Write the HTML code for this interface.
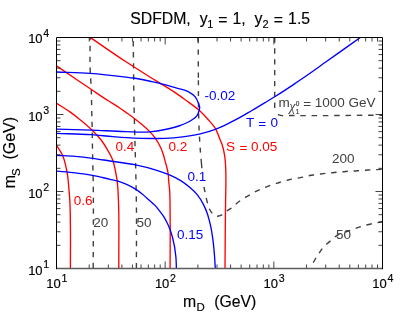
<!DOCTYPE html><html><head><meta charset="utf-8"><title>SDFDM</title><style>html,body{margin:0;padding:0;background:#fff}text{stroke-width:0}.k text{stroke-width:.15px}.k{fill:#000;stroke:#000}.r{fill:#f00;stroke:#f00}.b{fill:#00f;stroke:#00f}.g{fill:#404040;stroke:#404040}</style></head><body><svg width="407" height="326" viewBox="0 0 407 326" style="display:block"><rect width="407" height="326" fill="#fff"/><defs><clipPath id="c"><rect x="56.50" y="37.50" width="326.00" height="231.00"/></clipPath></defs><g clip-path="url(#c)" fill="none" stroke-linejoin="round"><path d="M90.10,37.50 C90.13,48.33 89.82,59.18 90.20,70.00 C90.43,76.67 91.05,83.33 91.30,90.00 C91.55,96.66 91.55,103.33 91.70,110.00 C91.85,116.67 92.07,123.33 92.20,130.00 C92.33,136.67 92.38,143.33 92.50,150.00 C92.69,160.67 93.03,171.33 93.20,182.00 C93.66,210.83 93.20,239.67 93.20,268.50" stroke="#404040" stroke-width="1.4" stroke-dasharray="5.3 5.55" stroke-dashoffset="2.5"/><path d="M133.20,37.50 C133.53,62.33 133.66,87.17 134.20,112.00 C134.29,116.33 134.40,120.67 134.50,125.00 C134.95,144.00 135.62,163.00 136.00,182.00 C136.15,189.67 136.30,197.33 136.40,205.00 C136.67,226.16 136.40,247.33 136.40,268.50" stroke="#404040" stroke-width="1.4" stroke-dasharray="5.4 5.7" stroke-dashoffset="7.6"/><path d="M203.90,186.80 C204.30,188.63 204.72,190.46 205.10,192.30 C205.52,194.33 205.83,196.38 206.30,198.40 C206.69,200.04 207.12,201.68 207.60,203.30 C208.22,205.39 208.70,207.58 209.70,209.50 C210.46,210.95 211.37,212.42 212.50,213.60 C213.41,214.55 214.40,215.78 215.60,216.10 C216.48,216.34 217.56,216.16 218.50,216.00 C220.04,215.74 221.53,214.96 222.90,214.20 C224.81,213.14 226.30,211.38 228.10,210.10 C229.49,209.11 231.04,208.33 232.40,207.30 C234.01,206.07 235.33,204.48 236.90,203.20 C238.15,202.18 239.47,201.23 240.80,200.30 C242.52,199.10 244.30,197.97 246.10,196.90 C247.57,196.02 249.10,195.24 250.60,194.40 C252.37,193.41 254.10,192.33 255.90,191.40 C257.50,190.58 259.15,189.82 260.80,189.10 C262.61,188.31 264.46,187.62 266.30,186.90 C267.96,186.25 269.62,185.58 271.30,185.00 C273.24,184.33 275.24,183.82 277.20,183.20 C278.84,182.68 280.45,182.09 282.10,181.60 C284.15,181.00 286.22,180.49 288.30,180.00 C289.96,179.61 291.63,179.23 293.30,178.90 C295.26,178.52 297.24,178.26 299.20,177.90 C300.90,177.59 302.61,177.27 304.30,176.90 C306.18,176.48 308.01,175.86 309.90,175.50 C311.52,175.19 313.17,175.03 314.80,174.80 C316.77,174.53 318.73,174.25 320.70,174.00 C322.33,173.79 323.96,173.58 325.60,173.40 C327.76,173.16 329.94,173.04 332.10,172.80 C333.67,172.62 335.23,172.36 336.80,172.20 C338.96,171.98 341.14,172.01 343.30,171.80 C344.94,171.64 346.56,171.34 348.20,171.20 C350.29,171.03 352.40,171.12 354.50,171.00 C356.20,170.90 357.90,170.72 359.60,170.60 C361.70,170.45 363.80,170.35 365.90,170.20 C367.53,170.08 369.16,169.90 370.80,169.80 C372.90,169.67 375.00,169.68 377.10,169.60 C378.80,169.54 380.50,169.47 382.20,169.40" stroke="#404040" stroke-width="1.4" stroke-dasharray="5.5 5.8" stroke-dashoffset="0.0"/><path d="M274.70,37.50 C274.70,61.00 274.70,84.50 274.70,108.00" stroke="#404040" stroke-width="1.4" stroke-dasharray="5.3 5.55" stroke-dashoffset="0.0"/><path d="M276.70,114.10 C278.03,114.53 279.34,115.12 280.70,115.40 C282.96,115.86 285.37,115.47 287.70,115.50 C319.30,115.91 350.90,115.30 382.50,115.20" stroke="#404040" stroke-width="1.4" stroke-dasharray="5.5 5.8" stroke-dashoffset="10.1"/><path d="M313.20,262.70 C313.93,261.40 314.63,260.08 315.40,258.80 C316.55,256.88 317.86,255.06 319.10,253.20 C320.06,251.76 320.93,250.25 322.00,248.90 C323.33,247.23 324.94,245.77 326.50,244.30 C327.67,243.20 328.89,242.15 330.10,241.10 C332.19,239.29 334.20,237.29 336.50,235.80 C340.23,233.39 344.80,232.37 349.00,230.80 C353.56,229.09 358.13,227.37 362.80,226.00 C368.56,224.31 374.53,223.31 380.40,222.00 C381.00,221.87 381.60,221.73 382.20,221.60" stroke="#404040" stroke-width="1.4" stroke-dasharray="5.5 5.8" stroke-dashoffset="0.0"/><path d="M198.20,37.50L198.22,43.20M198.25,49.50L198.27,54.80M198.30,61.20L198.32,66.50M198.35,72.60L198.37,77.70M198.38,80.20L198.40,85.20M198.42,91.00L198.44,96.00M198.47,102.50L198.49,107.50M198.61,113.60L198.77,118.60M198.97,125.40L199.13,130.40M199.44,136.60L199.76,141.60M200.13,147.60L200.50,152.60M201.06,158.80L201.90,168.30" stroke="#404040" stroke-width="1.4"/><path d="M90.50,37.60 C102.33,45.67 114.02,53.96 126.00,61.80 C134.26,67.21 142.63,72.46 151.00,77.70 C159.30,82.89 167.96,87.52 176.00,93.10 C179.21,95.33 182.35,97.67 185.50,100.00 C190.28,103.54 195.32,106.80 199.70,110.80 C202.74,113.57 205.59,116.60 208.30,119.70 C210.87,122.64 213.65,125.55 215.60,128.90 C217.47,132.11 218.44,135.84 219.90,139.30 C220.56,140.87 221.32,142.41 221.90,144.00 C223.23,147.63 223.97,151.49 224.60,155.30 C225.28,159.42 225.48,163.63 225.70,167.80 C225.95,172.49 225.90,177.20 225.90,181.90 C225.90,187.93 225.69,193.97 225.60,200.00 C225.41,213.33 225.29,226.67 225.20,240.00 C225.16,245.67 225.14,251.33 225.10,257.00 C225.07,260.83 225.03,264.67 225.00,268.50" stroke="#ff0000" stroke-width="1.35"/><path d="M56.50,65.90 C68.27,73.87 80.00,81.88 91.80,89.80 C97.13,93.38 102.41,97.01 107.80,100.50 C111.84,103.11 116.02,105.51 120.00,108.20 C122.02,109.57 124.01,110.99 126.00,112.40 C128.92,114.47 131.86,116.52 134.70,118.70 C137.18,120.61 139.62,122.57 142.00,124.60 C144.56,126.79 147.16,128.98 149.50,131.40 C151.60,133.57 153.66,135.83 155.40,138.30 C156.57,139.96 157.62,141.72 158.60,143.50 C159.59,145.32 160.50,147.19 161.30,149.10 C162.18,151.19 162.92,153.34 163.60,155.50 C164.37,157.93 164.93,160.43 165.60,162.90 C166.06,164.60 166.59,166.29 167.00,168.00 C167.43,169.82 167.82,171.65 168.10,173.50 C168.52,176.27 168.55,179.10 168.80,181.90 C169.05,184.64 169.39,187.36 169.60,190.10 C170.18,197.61 169.98,205.17 170.10,212.70 C170.39,231.30 170.10,249.90 170.10,268.50" stroke="#ff0000" stroke-width="1.35"/><path d="M56.50,103.40 C60.87,106.13 65.39,108.64 69.60,111.60 C73.00,113.99 76.27,116.59 79.50,119.20 C83.85,122.72 88.23,126.27 92.20,130.20 C95.33,133.30 98.43,136.51 101.10,140.00 C103.42,143.03 105.48,146.29 107.40,149.60 C109.40,153.05 111.42,156.58 112.80,160.30 C114.29,164.32 114.97,168.67 115.80,172.90 C116.38,175.88 116.94,178.88 117.30,181.90 C117.52,183.79 117.65,185.70 117.80,187.60 C118.25,193.45 118.40,199.33 118.60,205.20 C119.20,222.45 118.79,239.73 118.80,257.00 C118.80,260.83 118.80,264.67 118.80,268.50" stroke="#ff0000" stroke-width="1.35"/><path d="M56.50,145.20 C58.53,148.57 61.05,151.72 62.60,155.30 C63.98,158.47 64.76,161.93 65.60,165.30 C66.43,168.63 67.08,172.01 67.60,175.40 C68.21,179.44 68.44,183.53 68.80,187.60 C69.17,191.76 69.54,195.93 69.80,200.10 C70.31,208.48 70.27,216.90 70.40,225.30 C70.62,239.70 70.40,254.10 70.40,268.50" stroke="#ff0000" stroke-width="1.35"/><path d="M56.50,72.00 C67.73,72.47 78.99,72.60 90.20,73.40 C102.16,74.25 114.09,75.65 126.00,77.10 C128.40,77.39 130.81,77.65 133.20,78.00 C139.52,78.91 145.77,80.32 152.00,81.70 C155.54,82.49 159.08,83.31 162.60,84.20 C167.09,85.34 171.54,86.63 176.00,87.90 C179.91,89.01 184.17,89.43 187.70,91.30 C190.42,92.73 193.30,94.53 195.20,96.90 C196.72,98.81 197.73,101.26 198.60,103.60 C199.03,104.77 199.63,105.98 199.70,107.20 C199.78,108.45 199.35,109.77 199.00,111.00 C198.59,112.41 198.05,113.87 197.30,115.10 C195.74,117.66 192.77,119.36 190.20,121.00 C187.15,122.95 183.62,124.24 180.20,125.50 C176.12,127.01 171.84,128.04 167.60,129.00 C161.82,130.31 155.90,131.28 150.00,131.80 C141.86,132.52 133.60,131.79 125.40,131.60 C114.09,131.34 102.80,130.51 91.50,130.10 C79.84,129.67 68.17,129.43 56.50,129.10" stroke="#0000ff" stroke-width="1.35"/><path d="M56.50,133.40 C68.17,133.83 79.86,133.86 91.50,134.70 C98.61,135.21 105.69,136.12 112.80,136.70 C119.93,137.28 127.06,137.91 134.20,138.20 C140.13,138.44 146.07,138.48 152.00,138.50 C156.37,138.51 160.74,138.58 165.10,138.40 C170.98,138.16 176.86,137.64 182.70,136.90 C188.60,136.15 194.52,135.28 200.30,133.90 C205.37,132.69 210.43,131.23 215.30,129.40 C220.30,127.52 225.10,125.06 229.90,122.70 C233.16,121.09 236.41,119.44 239.60,117.70 C243.77,115.43 247.81,112.91 251.90,110.50 C256.28,107.92 260.65,105.32 265.00,102.70 C268.24,100.75 271.49,98.80 274.70,96.80 C277.82,94.86 280.92,92.90 284.00,90.90 C287.16,88.84 290.27,86.71 293.40,84.60 C297.28,81.98 301.15,79.36 305.00,76.70 C311.85,71.97 318.61,67.11 325.40,62.30 C331.94,57.67 338.47,53.04 345.00,48.40 C350.10,44.77 355.20,41.14 360.30,37.50 C361.23,36.83 362.17,36.17 363.10,35.50" stroke="#0000ff" stroke-width="1.35"/><path d="M56.50,155.30 C62.70,155.63 68.92,155.78 75.10,156.30 C80.98,156.80 86.85,157.51 92.70,158.30 C98.48,159.08 104.23,160.11 110.00,161.00 C118.50,162.32 127.09,163.17 135.50,164.90 C142.12,166.26 148.75,167.79 155.20,169.80 C159.83,171.24 164.45,172.79 168.90,174.70 C172.93,176.44 176.98,178.29 180.70,180.60 C183.96,182.63 187.09,184.97 190.00,187.50 C192.63,189.78 195.22,192.20 197.40,194.90 C199.78,197.86 201.75,201.22 203.50,204.60 C204.93,207.37 206.18,210.26 207.20,213.20 C207.90,215.20 208.45,217.25 209.00,219.30 C209.58,221.45 210.12,223.62 210.60,225.80 C211.84,231.40 212.61,237.11 213.30,242.80 C213.87,247.52 214.25,252.26 214.60,257.00 C214.89,260.83 215.07,264.67 215.30,268.50" stroke="#0000ff" stroke-width="1.35"/><path d="M56.50,171.10 C62.70,171.70 68.92,172.16 75.10,172.90 C80.98,173.61 86.88,174.33 92.70,175.40 C98.51,176.47 104.24,177.99 110.00,179.30 C112.63,179.90 115.32,180.32 117.90,181.10 C120.66,181.93 123.36,183.04 126.00,184.20 C129.26,185.63 132.49,187.21 135.50,189.10 C137.94,190.63 140.26,192.39 142.50,194.20 C144.87,196.11 147.03,198.27 149.30,200.30 C151.20,202.00 153.25,203.56 155.00,205.40 C156.63,207.11 158.04,209.03 159.50,210.90 C160.91,212.70 162.36,214.49 163.60,216.40 C164.86,218.35 165.97,220.42 167.00,222.50 C168.12,224.77 169.11,227.13 170.00,229.50 C171.01,232.21 171.85,235.01 172.60,237.80 C174.28,244.06 175.31,250.54 175.90,257.00 C176.25,260.81 176.23,264.67 176.40,268.50" stroke="#0000ff" stroke-width="1.35"/></g><path d="M89.21,268.50v-4.00M89.21,37.50v4.00M56.50,245.32h4.00M382.50,245.32h-4.00M108.35,268.50v-4.00M108.35,37.50v4.00M56.50,231.76h4.00M382.50,231.76h-4.00M121.92,268.50v-4.00M121.92,37.50v4.00M56.50,222.14h4.00M382.50,222.14h-4.00M132.45,268.50v-4.00M132.45,37.50v4.00M56.50,214.68h4.00M382.50,214.68h-4.00M141.06,268.50v-4.00M141.06,37.50v4.00M56.50,208.58h4.00M382.50,208.58h-4.00M148.33,268.50v-4.00M148.33,37.50v4.00M56.50,203.43h4.00M382.50,203.43h-4.00M154.64,268.50v-4.00M154.64,37.50v4.00M56.50,198.96h4.00M382.50,198.96h-4.00M160.19,268.50v-4.00M160.19,37.50v4.00M56.50,195.02h4.00M382.50,195.02h-4.00M165.17,268.50v-7.00M165.17,37.50v7.00M56.50,191.50h7.00M382.50,191.50h-7.00M197.88,268.50v-4.00M197.88,37.50v4.00M56.50,168.32h4.00M382.50,168.32h-4.00M217.01,268.50v-4.00M217.01,37.50v4.00M56.50,154.76h4.00M382.50,154.76h-4.00M230.59,268.50v-4.00M230.59,37.50v4.00M56.50,145.14h4.00M382.50,145.14h-4.00M241.12,268.50v-4.00M241.12,37.50v4.00M56.50,137.68h4.00M382.50,137.68h-4.00M249.73,268.50v-4.00M249.73,37.50v4.00M56.50,131.58h4.00M382.50,131.58h-4.00M257.00,268.50v-4.00M257.00,37.50v4.00M56.50,126.43h4.00M382.50,126.43h-4.00M263.30,268.50v-4.00M263.30,37.50v4.00M56.50,121.96h4.00M382.50,121.96h-4.00M268.86,268.50v-4.00M268.86,37.50v4.00M56.50,118.02h4.00M382.50,118.02h-4.00M273.83,268.50v-7.00M273.83,37.50v7.00M56.50,114.50h7.00M382.50,114.50h-7.00M306.55,268.50v-4.00M306.55,37.50v4.00M56.50,91.32h4.00M382.50,91.32h-4.00M325.68,268.50v-4.00M325.68,37.50v4.00M56.50,77.76h4.00M382.50,77.76h-4.00M339.26,268.50v-4.00M339.26,37.50v4.00M56.50,68.14h4.00M382.50,68.14h-4.00M349.79,268.50v-4.00M349.79,37.50v4.00M56.50,60.68h4.00M382.50,60.68h-4.00M358.39,268.50v-4.00M358.39,37.50v4.00M56.50,54.58h4.00M382.50,54.58h-4.00M365.67,268.50v-4.00M365.67,37.50v4.00M56.50,49.43h4.00M382.50,49.43h-4.00M371.97,268.50v-4.00M371.97,37.50v4.00M56.50,44.96h4.00M382.50,44.96h-4.00M377.53,268.50v-4.00M377.53,37.50v4.00M56.50,41.02h4.00M382.50,41.02h-4.00" stroke="#222" stroke-width="0.85" fill="none"/><path d="M56.00,268.55H383.00" stroke="#5c5c5c" stroke-width="1.4" fill="none"/><path d="M56.50,269.10V37.50H382.50V269.10" stroke="#000" stroke-width="1" fill="none" stroke-linejoin="miter"/><g font-family="Liberation Sans, Arial, Helvetica, sans-serif" class="k"><text x="60.70" y="288.3" font-size="13" text-anchor="end">10</text><text x="61.40" y="281.8" font-size="10.6">1</text><text x="42.6" y="274.80" font-size="13" text-anchor="end">10</text><text x="43.3" y="268.40" font-size="10.6">1</text><text x="169.37" y="288.3" font-size="13" text-anchor="end">10</text><text x="170.07" y="281.8" font-size="10.6">2</text><text x="42.6" y="197.60" font-size="13" text-anchor="end">10</text><text x="43.3" y="191.20" font-size="10.6">2</text><text x="278.03" y="288.3" font-size="13" text-anchor="end">10</text><text x="278.73" y="281.8" font-size="10.6">3</text><text x="42.6" y="120.60" font-size="13" text-anchor="end">10</text><text x="43.3" y="114.20" font-size="10.6">3</text><text x="386.70" y="288.3" font-size="13" text-anchor="end">10</text><text x="387.40" y="281.8" font-size="10.6">4</text><text x="42.6" y="43.30" font-size="13" text-anchor="end">10</text><text x="43.3" y="36.90" font-size="10.6">4</text><text x="130.2" y="23.8" font-size="15.8">SDFDM,</text><text x="199.7" y="23.8" font-size="15.8">y</text><text x="207.3" y="27.8" font-size="11">1</text><text x="218.2" y="24.5" font-size="15.8">=</text><text x="232.5" y="23.8" font-size="15.8">1,</text><text x="254.4" y="23.8" font-size="15.8">y</text><text x="262.4" y="27.8" font-size="11">2</text><text x="273.8" y="24.5" font-size="15.8">=</text><text x="288.1" y="23.8" font-size="15.8">1.5</text><text x="183.1" y="306.5" font-size="15.8">m</text><text x="196.5" y="311.3" font-size="11.5">D</text><text x="214.2" y="306.5" font-size="15.8">(GeV)</text><g transform="translate(15.2,188.3) rotate(-90)"><text x="0" y="0" font-size="16">m</text><text x="12.3" y="5" font-size="11.5">S</text><text x="28.7" y="0" font-size="16">(GeV)</text></g></g><g font-family="Liberation Sans, Arial, Helvetica, sans-serif" font-size="13.5"><text x="73.7" y="204.5" class="r">0.6</text><text x="115.6" y="151.1" class="r">0.4</text><text x="168.6" y="151.1" class="r">0.2</text><text x="225.9" y="151.1" class="r">S</text><text x="239.5" y="152.3" class="r">=</text><text x="251.1" y="151.1" class="r">0.05</text><text x="204.4" y="100.1" class="b">-0.02</text><text x="246.1" y="126.9" class="b">T</text><text x="258.2" y="127.9" class="b">=</text><text x="270.6" y="126.9" class="b">0</text><text x="187.5" y="180.7" class="b">0.1</text><text x="177" y="238.6" class="b">0.15</text><text x="93.2" y="227" class="g">20</text><text x="136.5" y="227" class="g">50</text><text x="332" y="162.5" class="g">200</text><text x="336" y="238.9" class="g">50</text><text x="278.5" y="106.6" class="g">m</text><text x="289.3" y="110.9" font-size="14" class="g" font-style="italic" font-family="Liberation Serif, DejaVu Serif, serif">χ</text><text x="295.8" y="105.7" font-size="6.5" class="g" style="stroke-width:.2px">0</text><text x="295.8" y="113.9" font-size="6.5" class="g" style="stroke-width:.2px">1</text><text x="303.2" y="107.6" class="g">=</text><text x="314.8" y="106.6" class="g">1000 GeV</text></g></svg></body></html>
